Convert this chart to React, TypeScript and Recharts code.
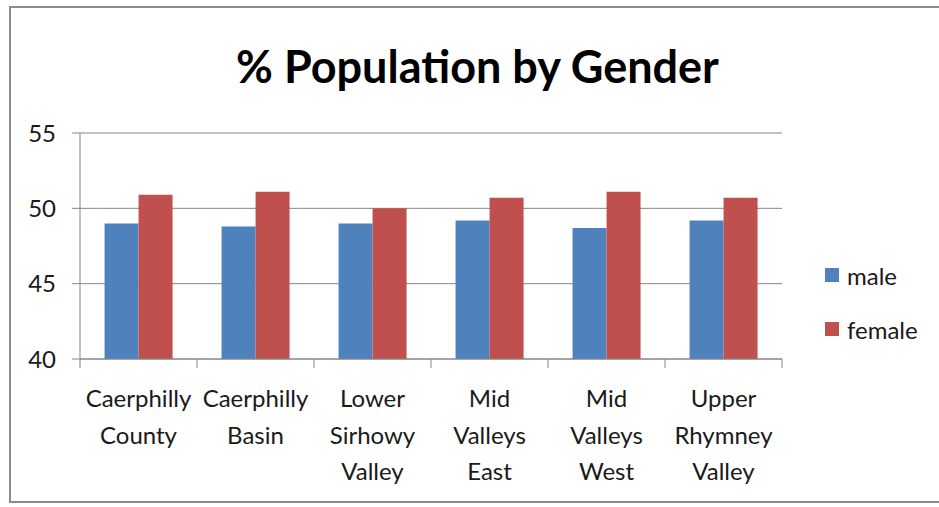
import { BarChart, Bar, XAxis, YAxis, CartesianGrid, Legend } from "recharts";

const AREAS = [
  "Caerphilly County",
  "Caerphilly Basin",
  "Lower Sirhowy Valley",
  "Mid Valleys East",
  "Mid Valleys West",
  "Upper Rhymney Valley",
];
const MALE = [49.0, 48.8, 49.0, 49.2, 48.7, 49.2];
const FEMALE = [50.9, 51.1, 50.0, 50.7, 51.1, 50.7];
const Y_TICKS = [40, 45, 50, 55];
const SERIES = ["male", "female"];

const data = AREAS.map((area, i) => ({ area, male: MALE[i], female: FEMALE[i] }));

const FONT = "Lato, 'Open Sans', sans-serif";
const BAND = (782 - 80) / AREAS.length;

function AreaTick({ x, y, payload, index }: any) {
  const words = String(payload.value).split(" ");
  return (
    <g>
      <line x1={x - BAND / 2} y1={y - 11} x2={x - BAND / 2} y2={y - 2} stroke="#868686" />
      {index === AREAS.length - 1 && (
        <line x1={x + BAND / 2} y1={y - 11} x2={x + BAND / 2} y2={y - 2} stroke="#868686" />
      )}
      <text x={x} y={y + 37} textAnchor="middle" fontSize={24} fill="#1a1a1a" fontFamily={FONT}>
        {words.map((w, i) => (
          <tspan key={i} x={x} dy={i === 0 ? 0 : 36.5}>{w}</tspan>
        ))}
      </text>
    </g>
  );
}

function LegendBox({ payload }: any) {
  const items = [...(payload || [])].sort(
    (a: any, b: any) => SERIES.indexOf(a.dataKey) - SERIES.indexOf(b.dataKey)
  );
  return (
    <div style={{ fontFamily: FONT, fontSize: 24, color: "#1a1a1a" }}>
      {items.map((p: any, i: number) => (
        <div key={i} style={{ display: "flex", alignItems: "center", height: 28, marginBottom: i === 0 ? 26 : 0 }}>
          <span style={{ width: 14, height: 14, background: p.color, display: "inline-block", marginRight: 8 }} />
          <span>{p.value}</span>
        </div>
      ))}
    </div>
  );
}

export default function App() {
  return (
    <div style={{ position: "absolute", left: 0, top: 0, width: 939, height: 507, background: "#fff", overflow: "hidden" }}>
      <div
        style={{
          position: "absolute", left: 9, top: 6, width: 940, height: 497,
          border: "2px solid #8c8c8c", boxSizing: "border-box",
        }}
      />
      <div
        style={{
          position: "absolute", left: 10, width: 935, top: 39, textAlign: "center",
          fontFamily: FONT, fontWeight: 700, fontSize: 45, color: "#000",
        }}
      >
        % Population by Gender
      </div>
      <BarChart
        width={939}
        height={507}
        data={data}
        margin={{ top: 133, right: 157, left: 20, bottom: 18 }}
        barCategoryGap="21%"
        barGap={0}
      >
        <CartesianGrid vertical={false} stroke="#868686" />
        <XAxis
          dataKey="area"
          height={130}
          tick={<AreaTick />}
          tickLine={false}
          axisLine={{ stroke: "#868686" }}
          interval={0}
          tickMargin={0}
          tickSize={11}
        />
        <YAxis
          width={60}
          domain={[40, 55]}
          ticks={Y_TICKS}
          tickSize={8}
          tickMargin={16}
          tickLine={{ stroke: "#868686" }}
          axisLine={{ stroke: "#868686" }}
          tick={{ fontSize: 24, fill: "#1a1a1a", fontFamily: FONT }}
        />
        <Legend
          layout="vertical"
          align="center"
          verticalAlign="middle"
          content={<LegendBox />}
          wrapperStyle={{ left: 825, top: 261, width: 110 }}
        />
        <Bar dataKey="male" fill="#4F81BD" isAnimationActive={false} />
        <Bar dataKey="female" fill="#C0504D" isAnimationActive={false} />
      </BarChart>
    </div>
  );
}
